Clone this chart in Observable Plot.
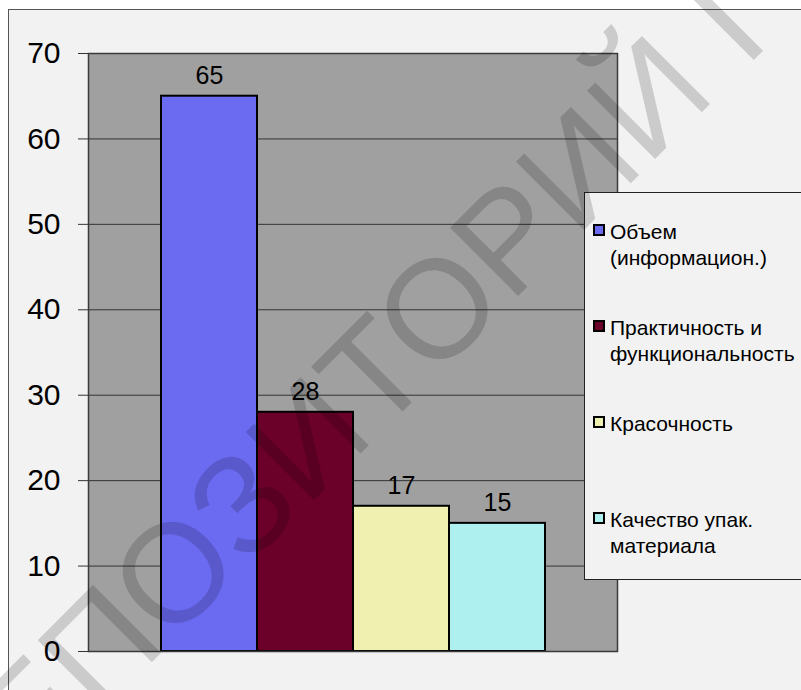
<!DOCTYPE html>
<html>
<head>
<meta charset="utf-8">
<script src="https://cdn.jsdelivr.net/npm/d3@7"></script>
<script src="https://cdn.jsdelivr.net/npm/@observablehq/plot@0.6"></script>
<style>
  html, body { margin: 0; padding: 0; background: #ffffff; }
  body { position: relative; width: 801px; height: 690px; overflow: hidden;
         font-family: "Liberation Sans", Arial, sans-serif; }
  #chartbg { position: absolute; left: 8px; top: 9px; width: 900px; height: 800px;
             border: 1px solid #555; background: #f2f2f2; }
  #plot { position: absolute; left: 0; top: 0; }
  #legend { position: absolute; left: 584px; top: 192px; width: 260px; height: 386px;
            border: 1px solid #222; background: #f2f2f2; }
  .item { position: absolute; left: 0; }
  .sw { position: absolute; left: 8px; width: 8px; height: 8px; border: 2px solid #000; }
  .lbl { position: absolute; left: 25px; width: 192px; font-size: 21px; line-height: 26px; color: #000; }
  #wm { position: absolute; left: 0; top: 0; pointer-events: none; }
</style>
</head>
<body>
<div id="chartbg"></div>
<div id="plot"></div>
<div id="legend"></div>
<svg id="wm" width="801" height="690"></svg>
<script>
// ---- data ----
const series = ["Объем (информацион.)", "Практичность и функциональность", "Красочность", "Качество упак. материала"];
const values = [65, 28, 17, 15];
const colors = ["#6b6bf2", "#6b0029", "#f0f0b0", "#aef0f0"];
const yTicks = [0, 10, 20, 30, 40, 50, 60, 70];
const watermarkWord = "РЕПОЗИТОРИЙ";
const watermarkRest = " ГГУ";

const rows = series.map((name, i) => ({name, value: values[i]}));
const font = '"Liberation Sans", Arial, sans-serif';

const chart = Plot.plot({
  width: 801,
  height: 690,
  marginLeft: 88,
  marginRight: 184,
  marginTop: 53,
  marginBottom: 39,
  style: {background: "transparent", fontFamily: font, color: "#000", overflow: "visible"},
  x: {domain: series, paddingInner: 0, paddingOuter: 0.747, axis: null},
  y: {domain: [0, 70], ticks: yTicks, label: null, axis: null},
  color: {domain: series, range: colors},
  marks: [
    Plot.frame({fill: "#a0a0a0"}),
    Plot.ruleY(yTicks.filter(v => v > 0 && v < 70), {stroke: "#333", strokeWidth: 1}),
    Plot.axisY({ticks: yTicks, tickSize: 10, tickPadding: 18, fontSize: 30, stroke: "#333", label: null}),
    Plot.barY(rows, {x: "name", y: "value", fill: "name", stroke: "#000", strokeWidth: 2, insetLeft: 0, insetRight: 0}),
    Plot.frame({stroke: "#3a3a3a", strokeWidth: 1.5}),
    Plot.text(rows, {x: "name", y: "value", text: d => String(d.value), dy: -20, fontSize: 25, fill: "#000"})
  ]
});
document.getElementById("plot").appendChild(chart);

// ---- legend ----
const legend = d3.select("#legend");
series.forEach((name, i) => {
  const it = legend.append("div").attr("class", "item").style("top", (96 * i) + "px");
  it.append("div").attr("class", "sw").style("top", "31px").style("background", colors[i]);
  it.append("div").attr("class", "lbl").style("top", "26px").text(name);
});

// ---- watermark ----
const wm = d3.select("#wm").append("text")
  .attr("transform", "translate(342,472) rotate(-45)")
  .attr("font-family", font)
  .attr("font-size", 140)
  .attr("fill", "#000")
  .attr("fill-opacity", 0.16)
  .text(watermarkWord);
const L = wm.node().getComputedTextLength();
wm.attr("x", -L / 2).text(watermarkWord + watermarkRest);
</script>
</body>
</html>
